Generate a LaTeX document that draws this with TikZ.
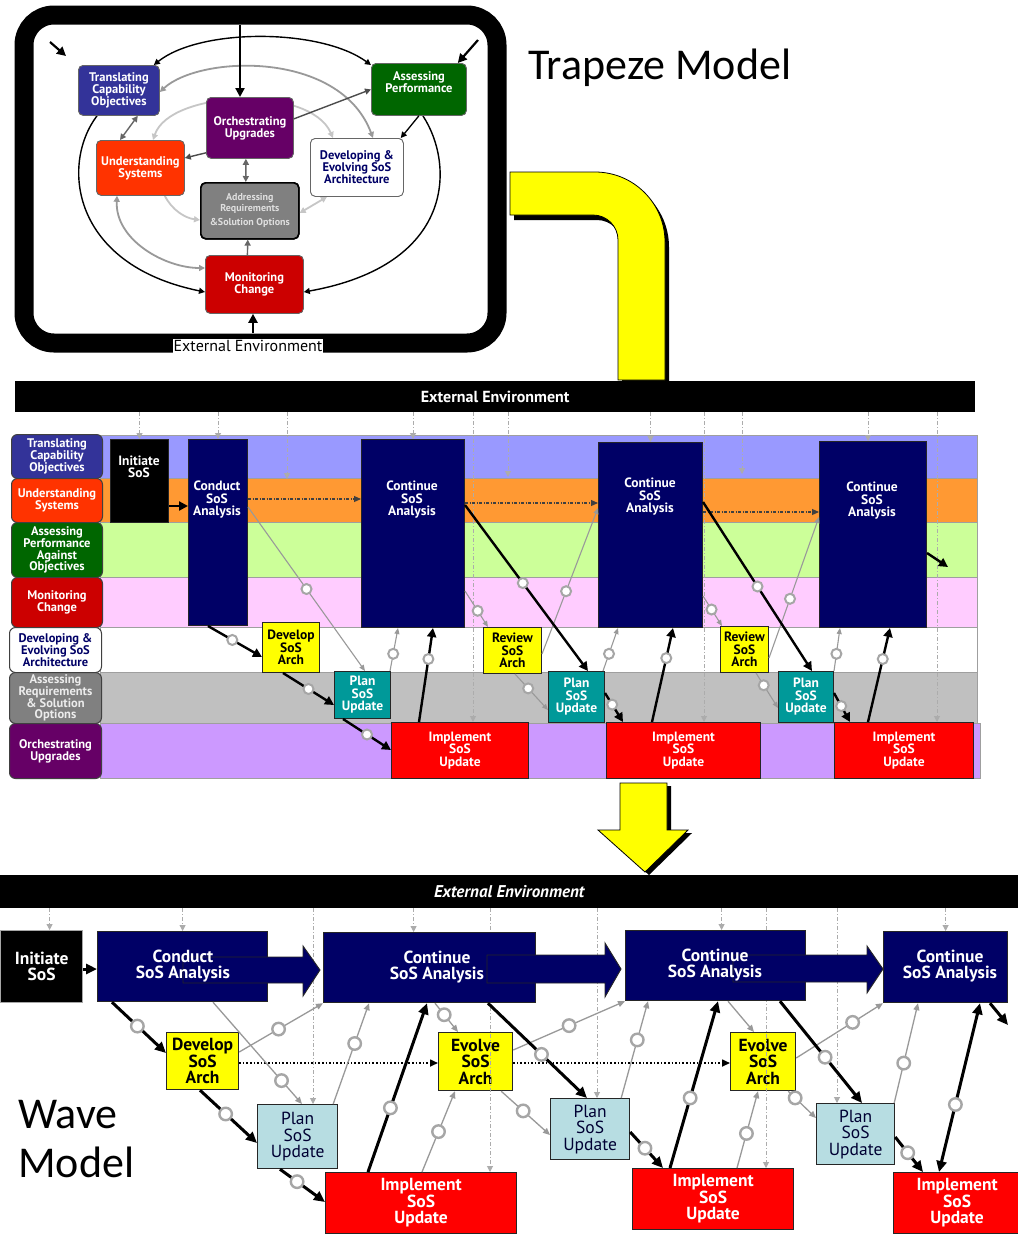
\documentclass[tikz,border=0pt]{standalone}
\usepackage{fontspec}
\setmainfont{PT Sans}
\newfontfamily\cali{Carlito}
\usetikzlibrary{arrows.meta,calc}
\definecolor{tcoC}{RGB}{51,51,153}
\definecolor{usC}{RGB}{255,51,0}
\definecolor{apC}{RGB}{0,102,0}
\definecolor{mcC}{RGB}{204,0,0}
\definecolor{ouC}{RGB}{102,0,102}
\definecolor{arC}{RGB}{128,128,128}
\definecolor{navyC}{RGB}{0,0,102}
\definecolor{navyD}{RGB}{0,0,51}
\definecolor{laneA}{RGB}{153,153,255}
\definecolor{laneB}{RGB}{255,153,51}
\definecolor{laneC}{RGB}{204,255,153}
\definecolor{laneD}{RGB}{255,204,255}
\definecolor{laneF}{RGB}{192,192,192}
\definecolor{laneG}{RGB}{204,153,255}
\definecolor{tealC}{RGB}{0,153,153}
\definecolor{ltblue}{RGB}{183,221,226}
\definecolor{yelC}{RGB}{255,255,0}
\definecolor{redC}{RGB}{255,0,0}
\newcommand\rbox[7]{\node[#1,anchor=north west,minimum width={#5-#3},minimum height={#6-#4}] (#2) at (#3,#4) {#7};}
\begin{document}
\begin{tikzpicture}[x=1pt,y=-1pt,
  tbox/.style={draw=black!60, line width=0.8pt, rounded corners=5pt, inner sep=0pt, align=center, text=white, font=\fontsize{12.5}{12}\selectfont\bfseries},
  lbl/.style={draw=black!75, line width=1pt, rounded corners=6pt, inner sep=0pt, align=center, text=white, font=\fontsize{12.5}{11.8}\selectfont\bfseries},
  lane/.style={draw=gray!75, line width=0.7pt, inner sep=0pt},
  mbox/.style={draw=black!85, line width=1pt, inner sep=0pt, align=center, text=white, font=\fontsize{13.5}{12.5}\selectfont\bfseries},
  mtxt/.style={inner sep=0pt, align=center, text=white, font=\fontsize{13.5}{12.5}\selectfont\bfseries},
  wbox/.style={draw=black!85, line width=1.2pt, inner sep=0pt, align=center, text=white, font=\fontsize{17.5}{16.5}\selectfont\bfseries},
  wtxt/.style={inner sep=0pt, align=center, text=white, font=\fontsize{17.5}{16.5}\selectfont\bfseries},
  ybox/.style={wbox, fill=yelC, text=black},
  pbox/.style={wbox, fill=ltblue, text=navyD, font=\fontsize{17.5}{16.5}\selectfont},
  bigarr/.style={fill=navyC, draw=black!85, line width=0.9pt},
  ring/.style={circle, draw=gray!70, line width=2pt, fill=white, minimum size=10pt, inner sep=0pt},
  ringB/.style={ring, minimum size=12.5pt, line width=2.4pt},
  blk/.style={line width=2.4pt, -{Triangle[length=9pt,width=9pt]}},
  blkB/.style={line width=3pt, -{Triangle[length=11pt,width=10pt]}},
  gar/.style={draw=gray!80, line width=1.1pt, -{Triangle[length=6pt,width=5pt]}},
  garB/.style={draw=gray!80, line width=1.3pt, -{Triangle[length=7pt,width=6pt]}},
  env/.style={draw=gray!65, line width=1pt, dash pattern=on 4pt off 2pt on 1pt off 2pt, -{Triangle[length=6pt,width=6pt]}},
  dd/.style={draw=black!75, line width=1.1pt, dash pattern=on 3pt off 1.5pt on 1pt off 1.5pt, -{Triangle[length=7pt,width=6pt]}},
  dotarr/.style={draw=black, line width=1.6pt, dotted, -{Triangle[length=8pt,width=7pt]}},
  tipa/.style={-{Triangle[length=6pt,width=6pt]}},
  tipb/.style={{Triangle[length=6pt,width=6pt]}-{Triangle[length=6pt,width=6pt]}},
  yel/.style={fill=yelC, draw=black, line width=0.8pt},
  shad/.style={fill=black}
]
\useasboundingbox (0,0) rectangle (1018,1235);
\fill[white] (0,0) rectangle (1018,1235);

%% ================= TRAPEZE MODEL =================
\node[draw=black, line width=19pt, rounded corners=30pt, minimum width=473, minimum height=328, inner sep=0pt] (band) at (260.5,179) {};
\node[fill=white, inner sep=1pt, font=\fontsize{16}{16}\selectfont] (envt) at (248,346) {External Environment};
\node[anchor=base west, inner sep=0pt, font=\cali\fontsize{44}{48}\selectfont] (trap) at (528,79) {Trapeze Model};

\rbox{tbox,fill=tcoC}{tco}{78}{65}{159}{115}{Translating\\Capability\\Objectives}
\rbox{tbox,fill=apC}{ap}{371}{63}{466}{115}{}
\rbox{tbox,fill=ouC}{ou}{206}{97}{293}{158}{Orchestrating\\Upgrades}
\rbox{tbox,fill=usC}{us}{96}{140}{184}{195}{Understanding\\Systems}
\rbox{tbox,fill=white,text=navyC}{dev}{310}{138}{403}{196}{Developing \&\\Evolving SoS\\Architecture}
\rbox{tbox,fill=arC,draw=black,line width=1.6pt,text=gray!25,font=\fontsize{10}{11}\selectfont\bfseries}{arq}{200}{182}{298}{238}{Addressing\\Requirements\\[3pt]\&Solution Options}
\rbox{tbox,fill=mcC}{mc}{205}{255}{303}{313}{Monitoring\\Change}

% arcs (light gray, gray, black)
\draw[gray!45, line width=1.8pt, tipb] ([xshift=57]us.north west) .. controls (170,90) and (310,85) .. ([xshift=23]dev.north west);
\draw[gray!45, line width=1.8pt, tipa] ([xshift=-20]us.south east) .. controls (172,210) and (185,218) .. ([yshift=-38]arq.north west);
\draw[gray!45, line width=1.8pt, tipb] ([xshift=17]dev.south west) -- ([yshift=-31]arq.north east);
\draw[gray!80, line width=1.8pt, tipb] ([yshift=-27]tco.north east) .. controls (200,55) and (340,50) .. ([xshift=63]dev.north west);
\draw[gray!80, line width=1.8pt, tipb] ([xshift=21]us.south west) .. controls (115,240) and (165,268) .. ([yshift=-13]mc.north west);
\draw[black, line width=1.4pt, tipb] ([xshift=-6]tco.north east) .. controls (200,28) and (320,28) .. ([yshift=-2]ap.north west);
\draw[black, line width=1.4pt, tipa] ([xshift=19]tco.south west) .. controls (60,165) and (72,265) .. ([yshift=-37]mc.north west);
\draw[black, line width=1.4pt, tipa] ([xshift=4]ap.south) .. controls (455,165) and (455,265) .. ([yshift=-37]mc.north east);

% redraw boxes over arcs
\rbox{tbox,fill=tcoC}{tcoA}{78}{65}{159}{115}{Translating\\Capability\\Objectives}
\rbox{tbox,fill=apC}{apA}{371}{63}{466}{115}{}
\node[inner sep=0pt, align=center, text=white, font=\fontsize{12.5}{12}\selectfont\bfseries] (apt) at (419,82) {Assessing\\Performance};
\rbox{tbox,fill=ouC}{ouA}{206}{97}{293}{158}{Orchestrating\\Upgrades}
\rbox{tbox,fill=usC}{usA}{96}{140}{184}{195}{Understanding\\Systems}
\rbox{tbox,fill=white,text=navyC}{devA0}{310}{138}{403}{196}{Developing \&\\Evolving SoS\\Architecture}
\rbox{tbox,fill=arC,draw=black,line width=1.6pt,text=gray!25,font=\fontsize{10}{11}\selectfont\bfseries}{arqA}{200}{182}{298}{238}{Addressing\\Requirements\\[3pt]\&Solution Options}
\rbox{tbox,fill=mcC}{mcA}{205}{255}{303}{313}{Monitoring\\Change}

% short arrows
\coordinate (bt) at (240,25);
\coordinate (btl) at (50,42);
\coordinate (btlE) at (66,56);
\coordinate (btr) at (478,40);
\coordinate (bb) at (253,333);
\draw[line width=2.2pt, -{Triangle[length=9pt,width=9pt]}] (bt) -- (ou.north -| bt);
\draw[line width=2.2pt, -{Triangle[length=9pt,width=9pt]}] (btl) -- (btlE);
\draw[line width=2.2pt, -{Triangle[length=9pt,width=9pt]}] (btr) -- ([xshift=-9]ap.north east);
\draw[line width=2.2pt, -{Triangle[length=9pt,width=9pt]}] (bb) -- (mc.south -| bb);
\draw[black, line width=1.3pt, tipa] (ap.south) -- ([xshift=-3]dev.north east);
\draw[black!70, line width=1.4pt, tipa] ([yshift=9]ou.east) -- (ap.west);
\draw[black!70, line width=1.4pt, tipa] ([yshift=6]ou.south west) -- ([yshift=-18]us.north east);
\draw[black!60, line width=1.4pt, tipb] ([xshift=-4]ou.south) -- ([xshift=-4]arq.north);
\draw[black!60, line width=1.4pt, tipa] ([xshift=-7]mc.north) -- ([xshift=-2]arq.south);
\draw[black!60, line width=1.4pt, tipb] ([xshift=-22]tco.south east) -- ([xshift=24]us.north west);

%% yellow bent arrow and down arrow
\path[shad, xshift=4pt, yshift=-5pt] (510,172) -- (595,172) arc[start angle=-90, end angle=0, radius=70] -- (665,376) -- (618,376) -- (618,240) arc[start angle=0, end angle=-90, radius=25] -- (510,215) -- cycle;
\path[yel] (510,172) -- (595,172) arc[start angle=-90, end angle=0, radius=70] -- (665,380) -- (618,380) -- (618,240) arc[start angle=0, end angle=-90, radius=25] -- (510,215) -- cycle;
\path[shad, xshift=4pt, yshift=-3pt] (620,783) -- (667,783) -- (667,830) -- (688,830) -- (645,872) -- (598,830) -- (620,830) -- cycle;
\path[yel] (620,783) -- (667,783) -- (667,830) -- (688,830) -- (645,872) -- (598,830) -- (620,830) -- cycle;

%% ================= SWIMLANES =================
\node[fill=black, minimum width=960, minimum height=31, anchor=north west, inner sep=0pt, text=white, font=\fontsize{16}{16}\selectfont\bfseries] (envmid) at (15,381) {External Environment};

\rbox{lane,fill=laneA}{la}{100}{435}{977}{478}{}
\rbox{lane,fill=laneB}{lb}{100}{478}{977}{522}{}
\rbox{lane,fill=laneC}{lc}{100}{522}{977}{577}{}
\rbox{lane,fill=laneD}{ld}{100}{577}{977}{627}{}
\rbox{lane,fill=white}{le}{100}{627}{977}{672}{}
\rbox{lane,fill=laneF}{lf}{100}{672}{977}{723}{}
\rbox{lane,fill=laneG}{lg}{100}{723}{980}{778}{}

\rbox{lbl,fill=tcoC}{ka}{11}{434}{102}{478}{Translating\\Capability\\Objectives}
\rbox{lbl,fill=usC}{kb}{11}{478}{102}{522}{Understanding\\Systems}
\rbox{lbl,fill=apC}{kc}{11}{522}{102}{577}{Assessing\\Performance\\Against\\Objectives}
\rbox{lbl,fill=mcC}{kd}{11}{577}{102}{627}{Monitoring\\Change}
\rbox{lbl,fill=white,text=navyC}{ke}{9}{627}{101}{672}{Developing \&\\Evolving SoS\\Architecture}
\rbox{lbl,fill=arC,text=gray!15}{kf}{9}{672}{101}{723}{Assessing\\Requirements\\\& Solution\\Options}
\rbox{lbl,fill=ouC}{kg}{9}{723}{101}{778}{Orchestrating\\Upgrades}

\rbox{mbox,fill=black}{ini}{110}{439}{168}{522}{}
\rbox{mbox,fill=navyC}{cond}{188}{439}{247}{625}{}
\rbox{mbox,fill=navyC}{cont1}{361}{439}{464}{627}{}
\rbox{mbox,fill=navyC}{cont2}{598}{442}{702}{627}{}
\rbox{mbox,fill=navyC}{cont3}{819}{441}{926}{627}{}
\rbox{mbox,fill=yelC,text=black}{devM}{262}{622}{319}{672}{Develop\\SoS\\Arch}
\rbox{mbox,fill=yelC,text=black}{rev1}{483}{627}{541}{673}{Review\\SoS\\Arch}
\rbox{mbox,fill=yelC,text=black}{rev2}{720}{626}{768}{672}{Review\\SoS\\Arch}
\rbox{mbox,fill=tealC}{plan1}{334}{671}{390}{718}{Plan\\SoS\\Update}
\rbox{mbox,fill=tealC}{plan2}{548}{671}{604}{722}{Plan\\SoS\\Update}
\rbox{mbox,fill=tealC}{plan3}{778}{671}{833}{722}{Plan\\SoS\\Update}
\rbox{mbox,fill=redC}{impl1}{391}{722}{528}{778}{Implement\\SoS\\Update}
\rbox{mbox,fill=redC}{impl2}{606}{722}{760}{778}{Implement\\SoS\\Update}
\rbox{mbox,fill=redC}{impl3}{834}{722}{973}{778}{Implement\\SoS\\Update}
\node[mtxt] (initt) at (139,467) {Initiate\\SoS};
\node[mtxt] (condt) at (217,500) {Conduct\\SoS\\Analysis};
\node[mtxt] (cont1t) at (412,500) {Continue\\SoS\\Analysis};
\node[mtxt] (cont2t) at (650,497) {Continue\\SoS\\Analysis};
\node[mtxt] (cont3t) at (872,501) {Continue\\SoS\\Analysis};

\coordinate (ua) at (287,479);
\coordinate (ub) at (508,477);
\coordinate (uc) at (742,474);
\coordinate (ia) at ([xshift=82]impl1.north west);
\coordinate (ib) at ([xshift=98]impl2.north west);
\coordinate (ic) at ([xshift=103]impl3.north west);
\coordinate (cc3) at ([xshift=-5]cont3.north);
\draw[env] (envmid.south -| ini.north) -- (ini.north);
\draw[env] (envmid.south -| cond.north) -- (cond.north);
\draw[env] (envmid.south -| ua) -- (ua);
\draw[env] (envmid.south -| cont1.north) -- (cont1.north);
\draw[env] (envmid.south -| ia) -- (ia);
\draw[env] (envmid.south -| ub) -- (ub);
\draw[env] (envmid.south -| cont2.north) -- (cont2.north);
\draw[env] (envmid.south -| ib) -- (ib);
\draw[env] (envmid.south -| uc) -- (uc);
\draw[env] (envmid.south -| cc3) -- (cc3);
\draw[env] (envmid.south -| ic) -- (ic);

\draw[dd] ([yshift=-60]cond.north east) -- ([yshift=-60]cont1.north west);
\draw[dd] ([yshift=-64]cont1.north east) -- ([yshift=-61]cont2.north west);
\draw[dd] ([yshift=-70]cont2.north east) -- ([yshift=-71]cont3.north west);

\draw[gar] ([yshift=-68]cond.north east) -- node[ring,pos=.5] (rg1) {} ([xshift=31]plan1.north west);
\draw[gar] ([xshift=-1]plan1.north east) -- node[ring,pos=.4] (rg2) {} ([xshift=37]cont1.south west);
\draw[gar] ([yshift=37]cont1.south east) -- node[ring,pos=.55] (rg3) {} ([xshift=5]rev1.north west);
\draw[gar] ([xshift=32]rev1.south west) -- node[ring,pos=.4] (rg4) {} ([yshift=-39]plan2.north west);
\draw[gar] ([yshift=20]rev1.south east) -- node[ring,pos=.43] (rg5) {} ([yshift=-66]cont2.north west);
\draw[gar] ([xshift=-2]plan2.north east) -- node[ring,pos=.4] (rg6) {} ([xshift=20]cont2.south west);
\draw[gar] ([yshift=32]cont2.south east) -- node[ring,pos=.45] (rg7) {} ([xshift=2]rev2.north west);
\draw[gar] ([xshift=-13]rev2.south east) -- node[ring,pos=.35] (rg8) {} ([yshift=-37]plan3.north west);
\draw[gar] ([yshift=15]rev2.south east) -- node[ring,pos=.42] (rg9) {} ([yshift=-76]cont3.north west);
\draw[gar] (plan3.north east) -- node[ring,pos=.4] (rg10) {} ([xshift=21]cont3.south west);

\coordinate (ex1) at (948,567);
\draw[blk] ([yshift=-67]ini.north east) -- ([yshift=-67]cond.north west);
\draw[blk] ([xshift=20]cond.south west) -- node[ring,pos=.45] (rb2) {} ([yshift=-35]devM.north west);
\draw[blk] ([xshift=21]devM.south west) -- node[ring,pos=.5] (rb3) {} ([yshift=-34]plan1.north west);
\draw[blk] ([xshift=9]plan1.south west) -- node[ring,pos=.5] (rb4) {} ([yshift=-28]impl1.north west);
\draw[blk] ([xshift=28]impl1.north west) -- node[ring,pos=.67] (rb5) {} ([xshift=72]cont1.south west);
\draw[blk] ([yshift=-66]cont1.north east) -- node[ring,pos=.47] (rb6) {} ([xshift=40]plan2.north west);
\draw[blk] ([yshift=-22]plan2.north east) -- node[ring,pos=.4] (rb7) {} ([xshift=17]impl2.north west);
\draw[blk] ([xshift=46]impl2.north west) -- node[ring,pos=.68] (rb8) {} ([xshift=75]cont2.south west);
\draw[blk] ([yshift=-60]cont2.north east) -- node[ring,pos=.5] (rb9) {} ([xshift=34]plan3.north west);
\draw[blk] ([yshift=-22]plan3.north east) -- node[ring,pos=.45] (rb10) {} ([xshift=16]impl3.north west);
\draw[blk] ([xshift=34]impl3.north west) -- node[ring,pos=.67] (rb11) {} ([xshift=71]cont3.south west);
\draw[blk] ([yshift=-112]cont3.north east) -- (ex1);

%% ================= WAVE MODEL =================
\node[fill=black, minimum width=1018, minimum height=33, anchor=north west, inner sep=0pt, text=white, font=\fontsize{17}{17}\selectfont\bfseries\itshape] (envbot) at (0,875) {External Environment};
\node[anchor=base west, inner sep=0pt, font=\cali\fontsize{44}{48}\selectfont] (wave) at (18,1128) {Wave};
\node[anchor=base west, inner sep=0pt, font=\cali\fontsize{44}{48}\selectfont] (model) at (18,1177) {Model};

\rbox{wbox,fill=black,draw=gray!70}{iniB}{0}{930}{82}{1002}{Initiate\\SoS}
\rbox{wbox,fill=navyC}{condB}{97}{931}{267}{1001}{}
\rbox{wbox,fill=navyC}{cont1B}{323}{932}{535}{1002}{}
\rbox{wbox,fill=navyC}{cont2B}{625}{930}{805}{1000}{}
\rbox{wbox,fill=navyC}{cont3B}{883}{931}{1007}{1002}{}
\rbox{ybox}{devB}{166}{1032}{238}{1089}{Develop\\SoS\\Arch}
\rbox{ybox}{evo1}{438}{1032}{512}{1090}{Evolve\\SoS\\Arch}
\rbox{ybox}{evo2}{730}{1032}{795}{1090}{Evolve\\SoS\\Arch}
\rbox{pbox}{plan1B}{257}{1104}{337}{1168}{Plan\\SoS\\Update}
\rbox{pbox}{plan2B}{550}{1098}{629}{1159}{Plan\\SoS\\Update}
\rbox{pbox}{plan3B}{816}{1103}{894}{1164}{Plan\\SoS\\Update}
\rbox{wbox,fill=redC}{impl1B}{325}{1172}{516}{1233}{Implement\\SoS\\Update}
\rbox{wbox,fill=redC}{impl2B}{632}{1168}{793}{1229}{Implement\\SoS\\Update}
\rbox{wbox,fill=redC}{impl3B}{893}{1172}{1020}{1233}{Implement\\SoS\\Update}

\coordinate (q1) at ([xshift=8]iniB.north);
\coordinate (q2) at ([xshift=56]plan1B.north west);
\coordinate (q3) at ([xshift=-16]cont1B.north);
\coordinate (q4) at ([xshift=165]impl1B.north west);
\coordinate (q5) at ([xshift=47]plan2B.north west);
\coordinate (q6) at ([xshift=6]cont2B.north);
\coordinate (q7) at ([xshift=134]impl2B.north west);
\coordinate (q8) at ([xshift=21]plan3B.north west);
\draw[env] (envbot.south -| q1) -- (q1);
\draw[env] (envbot.south -| condB.north) -- (condB.north);
\draw[env] (envbot.south -| q2) -- (q2);
\draw[env] (envbot.south -| q3) -- (q3);
\draw[env] (envbot.south -| q4) -- (q4);
\draw[env] (envbot.south -| q5) -- (q5);
\draw[env] (envbot.south -| q6) -- (q6);
\draw[env] (envbot.south -| q7) -- (q7);
\draw[env] (envbot.south -| q8) -- (q8);
\draw[env] (envbot.south -| cont3B.north) -- (cont3B.north);

% navy boxes over env lines, then big arrows, then texts
\rbox{wbox,fill=navyC}{condC}{97}{931}{267}{1001}{}
\rbox{wbox,fill=navyC}{cont1C}{323}{932}{535}{1002}{}
\rbox{wbox,fill=navyC}{cont2C}{625}{930}{805}{1000}{}
\rbox{wbox,fill=navyC}{cont3C}{883}{931}{1007}{1002}{}
\path[bigarr] (183,957) -- (303,957) -- (303,946) -- (320,970) -- (303,996) -- (303,983) -- (183,983) -- cycle;
\path[bigarr] (487,955) -- (605,955) -- (605,943) -- (621,969) -- (605,997) -- (605,983) -- (487,983) -- cycle;
\path[bigarr] (733,955) -- (867,955) -- (867,946) -- (883,969) -- (867,993) -- (867,982) -- (733,982) -- cycle;
\node[wtxt] (condBt) at (183,966) {Conduct\\SoS Analysis};
\node[wtxt] (cont1Bt) at (437,967) {Continue\\SoS Analysis};
\node[wtxt] (cont2Bt) at (715,965) {Continue\\SoS Analysis};
\node[wtxt] (cont3Bt) at (950,966) {Continue\\SoS Analysis};
\rbox{wbox,fill=redC}{impl1C}{325}{1172}{516}{1233}{Implement\\SoS\\Update}
\rbox{wbox,fill=redC}{impl2C}{632}{1168}{793}{1229}{Implement\\SoS\\Update}
\rbox{pbox}{plan1C}{257}{1104}{337}{1168}{Plan\\SoS\\Update}
\rbox{pbox}{plan2C}{550}{1098}{629}{1159}{Plan\\SoS\\Update}
\rbox{pbox}{plan3C}{816}{1103}{894}{1164}{Plan\\SoS\\Update}

\draw[dotarr] ([yshift=-31]devB.north east) -- ([yshift=-31]evo1.north west);
\draw[dotarr] ([yshift=-31]evo1.north east) -- ([yshift=-31]evo2.north west);

\draw[garB] ([xshift=116]condB.south west) -- node[ringB,pos=.77] (rh1) {} ([xshift=45]plan1B.north west);
\draw[garB] ([yshift=-20]devB.north east) -- node[ringB,pos=.47] (rh2) {} (cont1B.south west);
\draw[garB] ([xshift=-5]plan1B.north east) -- node[ringB,pos=.6] (rh3) {} ([xshift=46]cont1B.south west);
\draw[garB] ([xshift=97]impl1B.north west) -- node[ringB,pos=.5] (rh4) {} ([xshift=17]evo1.south west);
\draw[garB] ([xshift=112]cont1B.south west) -- node[ringB,pos=.4] (rh5) {} ([xshift=20]evo1.north west);
\draw[garB] ([yshift=-18]evo1.north east) -- node[ringB,pos=.5] (rh6) {} (cont2B.south west);
\draw[garB] ([xshift=-12]evo1.south east) -- node[ringB,pos=.45] (rh7) {} ([yshift=-37]plan2B.north west);
\draw[garB] ([xshift=-9]plan2B.north east) -- node[ringB,pos=.6] (rh8) {} ([xshift=23]cont2B.south west);
\draw[garB] ([xshift=103]cont2B.south west) -- ([xshift=24]evo2.north west);
\draw[garB] ([xshift=105]impl2B.north west) -- node[ringB,pos=.45] (rh10) {} ([xshift=28]evo2.south west);
\draw[garB] ([yshift=-26]evo2.north east) -- node[ringB,pos=.65] (rh11) {} (cont3B.south west);
\draw[garB] ([xshift=-8]evo2.south east) -- node[ringB,pos=.25] (rh12) {} ([yshift=-15]plan3B.north west);
\draw[garB] ([xshift=-1]plan3B.north east) -- node[ringB,pos=.4] (rh13) {} ([xshift=35]cont3B.south west);

\coordinate (exB) at (1008,1025);
\draw[blkB] ([yshift=-39]iniB.north east) -- ([yshift=-38]condB.north west);
\draw[blkB] ([xshift=15]condB.south west) -- node[ringB,pos=.47] (rk2) {} ([yshift=-21]devB.north west);
\draw[blkB] ([xshift=34]devB.south west) -- node[ringB,pos=.45] (rk3) {} ([yshift=-39]plan1B.north west);
\draw[blkB] ([xshift=23]plan1B.south west) -- node[ringB,pos=.38] (rk4) {} ([yshift=-30]impl1B.north west);
\draw[blkB] ([xshift=43]impl1B.north west) -- node[ringB,pos=.38] (rk5) {} ([xshift=104]cont1B.south west);
\draw[blkB] ([xshift=165]cont1B.south west) -- node[ringB,pos=.54] (rk6) {} ([xshift=37]plan2B.north west);
\draw[blkB] ([yshift=-34]plan2B.north east) -- node[ringB,pos=.45] (rk7) {} ([xshift=31]impl2B.north west);
\draw[blkB] ([xshift=38]impl2B.north west) -- node[ringB,pos=.42] (rk8) {} ([xshift=93]cont2B.south west);
\draw[blkB] ([xshift=155]cont2B.south west) -- node[ringB,pos=.55] (rk9) {} ([xshift=46]plan3B.north west);
\draw[blkB] ([yshift=-34]plan3B.north east) -- node[ringB,pos=.45] (rk10) {} ([xshift=30]impl3B.north west);
\draw[blkB, {Triangle[length=11pt,width=10pt]}-{Triangle[length=11pt,width=10pt]}] ([xshift=46]impl3B.north west) -- node[ringB,pos=.4] (rk11) {} ([xshift=97]cont3B.south west);
\draw[blkB] ([xshift=107]cont3B.south west) -- (exB);
\end{tikzpicture}
\end{document}
